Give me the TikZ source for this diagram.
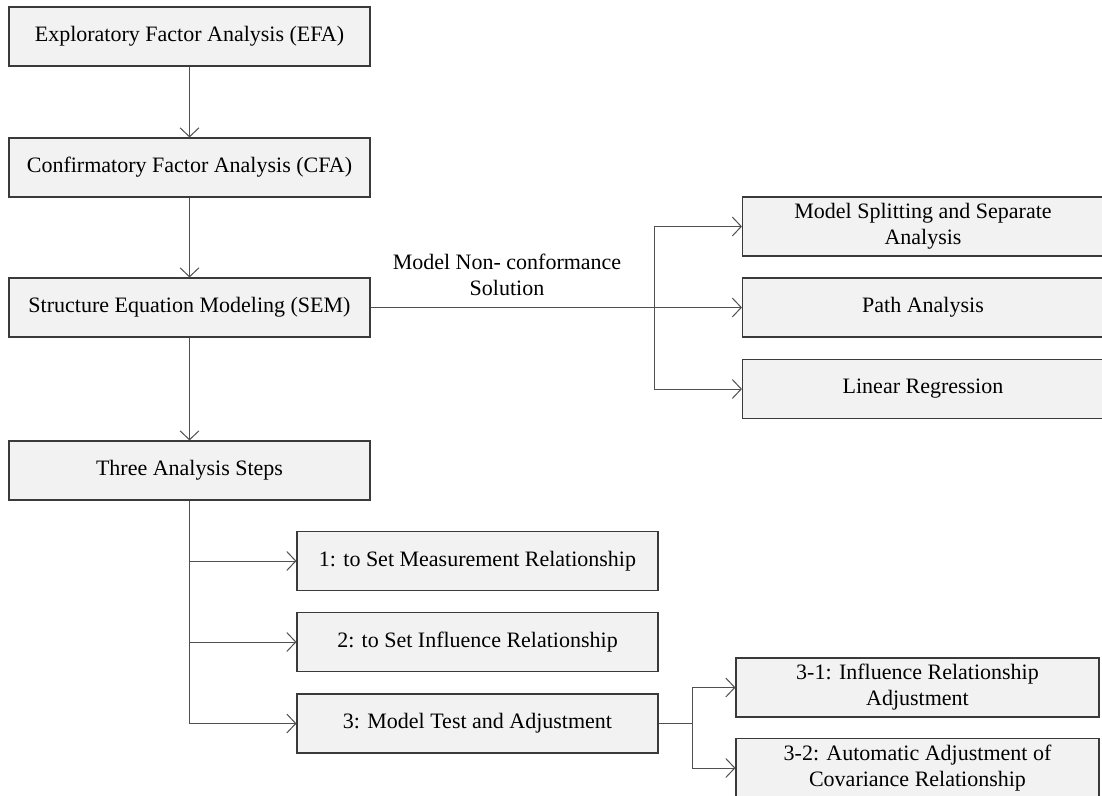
\documentclass[tikz,border=0pt]{standalone}
\usepackage{fontspec}
\setmainfont{Liberation Serif}
\usetikzlibrary{arrows.meta}
\definecolor{boxfill}{HTML}{F2F2F2}
\definecolor{boxline}{HTML}{3A3A3A}
\definecolor{wire}{HTML}{505050}
\tikzset{
  stage/.style={draw=boxline, line width=1.1pt, fill=boxfill,
    minimum width=361pt, minimum height=59pt, inner sep=0pt,
    align=center, font=\fontsize{22}{26}\selectfont},
  flow/.style={draw=wire, line width=1pt,
    -{Straight Barb[length=9pt,width=19pt,line width=1pt]}},
  wireline/.style={draw=wire, line width=1pt},
  note/.style={align=center, font=\fontsize{22}{26}\selectfont, inner sep=0pt}
}
\begin{document}
\begin{tikzpicture}[x=1pt,y=-1pt]
  \clip (0,0) rectangle (1102,795);
  \fill[white] (0,0) rectangle (1102,795);

  % main column
  \node[stage] (efa)   at (189.5,36.5)  {Exploratory Factor Analysis (EFA)};
  \node[stage] (cfa)   at (189.5,167.5) {Confirmatory Factor Analysis (CFA)};
  \node[stage] (sem)   at (189.5,307.5) {Structure Equation Modeling (SEM)};
  \node[stage] (steps) at (189.5,470.5) {Three Analysis Steps};

  % alternatives when the model does not conform
  \node[stage] (split)  at (923,226.5) {Model Splitting and Separate\\Analysis};
  \node[stage] (path)   at (923,307.5) {Path Analysis};
  \node[stage] (linreg) at (923,389)   {Linear Regression};

  % the three analysis steps
  \node[stage] (s1) at (477.5,561) {1: to Set Measurement Relationship};
  \node[stage] (s2) at (477.5,642) {2: to Set Influence Relationship};
  \node[stage] (s3) at (477.5,723.5) {3: Model Test and Adjustment};

  % adjustment sub-steps
  \node[stage, minimum width=363pt] (s31) at (917.5,687.5) {3-1: Influence Relationship\\Adjustment};
  \node[stage, minimum width=363pt] (s32) at (917.5,768)   {3-2: Automatic Adjustment of\\Covariance Relationship};

  \node[note] (lbl) at (507,275) {Model Non- conformance\\Solution};

  \coordinate (ja) at (654,307.5);
  \coordinate (jb) at (692,723.5);

  % connectors
  \draw[flow] (efa.south) -- (cfa.north);
  \draw[flow] (cfa.south) -- (sem.north);
  \draw[flow] (sem.south) -- (steps.north);

  \draw[flow] (sem.east) -- (path.west);
  \draw[flow] (ja) |- (split.west);
  \draw[flow] (ja) |- (linreg.west);

  \draw[flow] (steps.south) |- (s1.west);
  \draw[flow] (steps.south) |- (s2.west);
  \draw[flow] (steps.south) |- (s3.west);

  \draw[wireline] (s3.east) -- (jb);
  \draw[flow] (jb) |- (s31.west);
  \draw[flow] (jb) |- (s32.west);
\end{tikzpicture}
\end{document}
